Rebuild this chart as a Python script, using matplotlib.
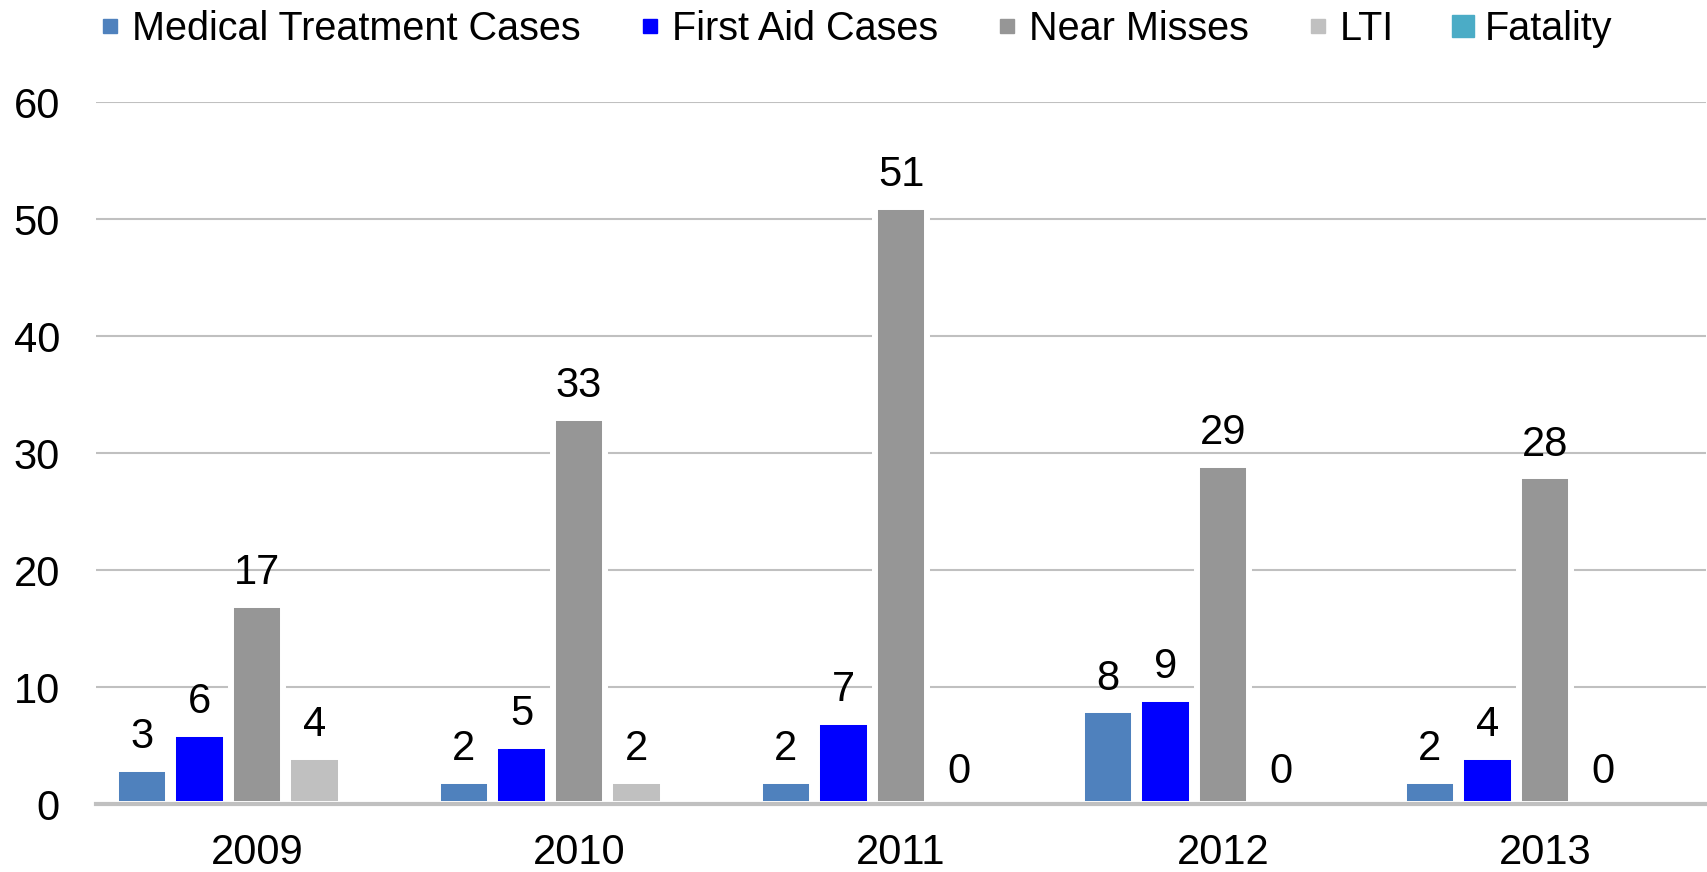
import numpy as np
import matplotlib
matplotlib.use("Agg")
import matplotlib.pyplot as plt
from matplotlib.lines import Line2D

years = ["2009", "2010", "2011", "2012", "2013"]
series_names = ["Medical Treatment Cases", "First Aid Cases", "Near Misses", "LTI", "Fatality"]
medical = [3, 2, 2, 8, 2]
first_aid = [6, 5, 7, 9, 4]
near_misses = [17, 33, 51, 29, 28]
lti = [4, 2, 0, 0, 0]
fatality = [np.nan, np.nan, np.nan, np.nan, np.nan]
colors = ["#4F81BD", "#0000FF", "#969696", "#C0C0C0", "#4BACC6"]

plt.rcParams['font.family'] = ['Liberation Sans', 'DejaVu Sans']
FS = 30

fig = plt.figure(figsize=(17.07, 8.72), dpi=100)
ax = fig.add_axes([96 / 1707, 1 - 804 / 872, (1706 - 96) / 1707, (804 - 102) / 872])

x = np.arange(len(years))
pitch = 0.1786
width = 0.162
all_series = [medical, first_aid, near_misses, lti, fatality]

for i, vals in enumerate(all_series):
    pos = x + (i - 2) * pitch
    vals = np.array(vals, dtype=float)
    ax.bar(pos, np.nan_to_num(vals), width=width, color=colors[i],
           edgecolor='white', linewidth=4.3, zorder=2)
    for xp, v in zip(pos, vals):
        if np.isnan(v):
            continue
        ax.annotate(f"{int(v)}", (xp, v), xytext=(0, 15), textcoords='offset points',
                    ha='center', va='baseline', fontsize=FS, zorder=4)

ax.set_xlim(-0.5, len(years) - 0.5)
ax.set_ylim(0, 60)
ax.set_yticks(range(0, 61, 10))
ax.set_xticks(x)
ax.set_xticklabels(years)
ax.yaxis.grid(True, color='#C0C0C0', linewidth=1.5, zorder=1)
ax.set_axisbelow(True)
ax.tick_params(axis='y', length=0, pad=26, labelsize=FS)
ax.tick_params(axis='x', length=0, pad=21, labelsize=FS)
for s in ['top', 'right', 'left']:
    ax.spines[s].set_visible(False)
ax.spines['bottom'].set_color('#C0C0C0')
ax.spines['bottom'].set_linewidth(3)
ax.spines['bottom'].set_zorder(3)

# Fatality marker is drawn larger in the original legend
msizes = [10, 10, 10, 10, 16]
handles = [Line2D([0], [0], marker='s', linestyle='none', markersize=m,
                  markerfacecolor=c, markeredgecolor=c, label=n)
           for c, n, m in zip(colors, series_names, msizes)]
fig.legend(handles=handles, loc='center', bbox_to_anchor=(0.5, 1 - 29 / 872), ncol=5,
           frameon=False, fontsize=28.5, handletextpad=0.15, columnspacing=1.35,
           handlelength=0.8)

fig.savefig("out.png", dpi=100)
